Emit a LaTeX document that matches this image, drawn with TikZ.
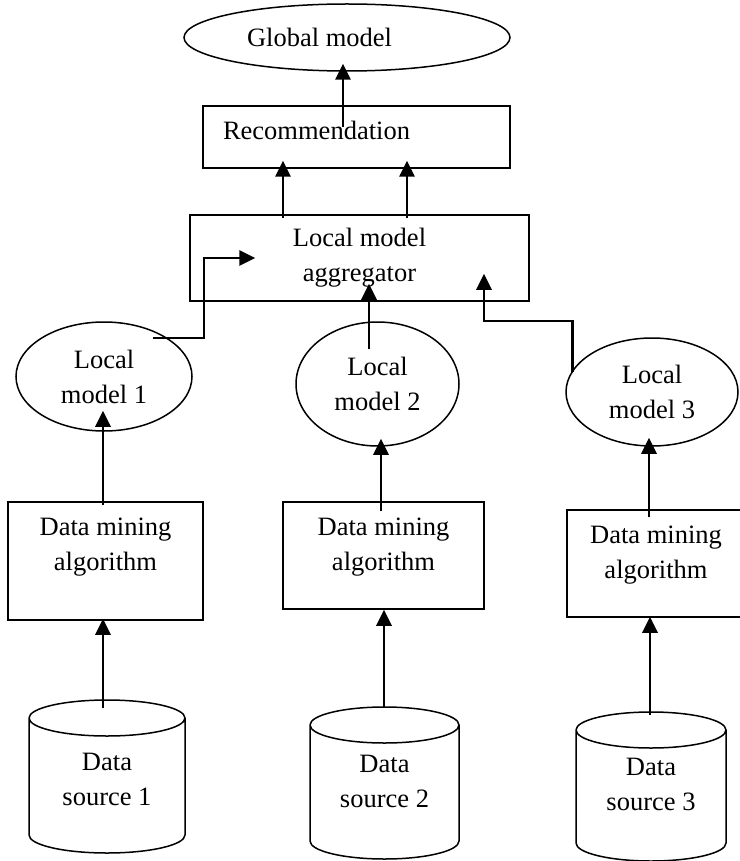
\documentclass[tikz,border=0pt]{standalone}
\usepackage{fontspec}
\setmainfont{Liberation Serif}
\usetikzlibrary{shapes.geometric,arrows.meta,calc}

\begin{document}
\begin{tikzpicture}[x=0.5pt, y=-0.5pt,
        font=\fontsize{13.25}{17.5}\selectfont,
        box/.style={rectangle, draw, line width=0.75pt, align=center},
        oval/.style={ellipse, draw, line width=0.75pt, align=center, inner sep=0pt},
        store/.style={cylinder, shape border rotate=90, aspect=0.27, text width=60pt, draw, line width=0.75pt, anchor=shape center},
        boxlabel/.style={align=center},
        flow/.style={-{Triangle[length=8pt, width=7.5pt]}, line width=1.45pt}
    ]
        \useasboundingbox (0, 0) rectangle (739, 861);
        \node (global) at (347, 37.5) [oval, minimum width=163pt, minimum height=33.5pt, label={[xshift=-13.75pt]center:Global model}] {};
        \node (rec) at (356.5, 137) [box, minimum width=153.5pt, minimum height=31pt, label={[xshift=-20pt, yshift=3.5pt]center:Recommendation}] {};
        \node (agg) at (359.5, 258) [box, minimum width=169.5pt, minimum height=43pt] {Local model\\aggregator};
        \node (lmone) at (104, 376.5) [oval, minimum width=88pt, minimum height=54.5pt] {Local\\model 1};
        \node (lmtwo) at (377.5, 384) [oval, minimum width=81.5pt, minimum height=62pt] {Local\\model 2};
        \node (lmthree) at (652, 392) [oval, minimum width=86pt, minimum height=54pt] {Local\\model 3};
        \node (algone) at (105.5, 561) [box, minimum width=97.5pt, minimum height=59pt, label={[boxlabel, yshift=7pt]center:Data mining\\algorithm}] {};
        \node (algtwo) at (383.5, 555.5) [box, minimum width=100.5pt, minimum height=53.5pt, label={[boxlabel, yshift=4pt]center:Data mining\\algorithm}] {};
        \node (algthree) at (656, 563.5) [box, minimum width=89pt, minimum height=53.5pt, label={[boxlabel, yshift=4pt]center:Data mining\\algorithm}] {};
        \node (srcone) at (107, 776.5) [store, minimum width=78pt, minimum height=76.5pt, label={[boxlabel, yshift=5pt]center:Data\\source 1}] {};
        \node (srctwo) at (384.5, 783) [store, minimum width=74.5pt, minimum height=76pt, label={[boxlabel, yshift=7.25pt]center:Data\\source 2}] {};
        \node (srcthree) at (651, 786.5) [store, minimum width=75pt, minimum height=74.5pt, label={[boxlabel, yshift=7.5pt]center:Data\\source 3}] {};
        % arrows
        \draw[flow] ($(rec.north)+(-13.5, 22)$) -- ($(global.south)+(-4, -8)$);
        \draw[flow] ($(agg.north)+(-76.5, 4)$) -- ($(rec.south)+(-73.5, -8)$);
        \draw[flow] ($(agg.north)+(47.5, 4)$) -- ($(rec.south)+(50.5, -8)$);
        \draw[flow] ($(lmone.center)+(49, -38.5)$) -- ++(51, 0) |- ($(agg.west)+(66, 0)$);
        \draw[flow] ($(lmtwo.north)+(-8.5, 28)$) -- ($(agg.south)+(9.5, -18)$);
        \draw[flow] ($(lmthree.west)+(7, -20)$) -- ++(0, -51) -| ($(agg.south)+(124.5, -28)$);
        \draw[flow] ($(algone.north)+(-2.5, 4)$) -- ($(lmone.south)+(-1, -21)$);
        \draw[flow] ($(algtwo.north)+(-2.5, 10)$) -- ($(lmtwo.south)+(3.5, -8)$);
        \draw[flow] ($(algthree.north)+(-7, 8)$) -- ($(lmthree.south)+(-3, -9)$);
        \draw[flow] ($(srcone.shape center)+(-4, -68.5)$) -- ($(algone.south)+(-2.5, -2)$);
        \draw[flow] ($(srctwo.shape center)+(-0.5, -75)$) -- ($(algtwo.south)+(0.5, 0)$);
        \draw[flow] ($(srcthree.shape center)+(-1, -71.5)$) -- ($(algthree.south)+(-6, -1)$);
    \end{tikzpicture}
\end{document}
